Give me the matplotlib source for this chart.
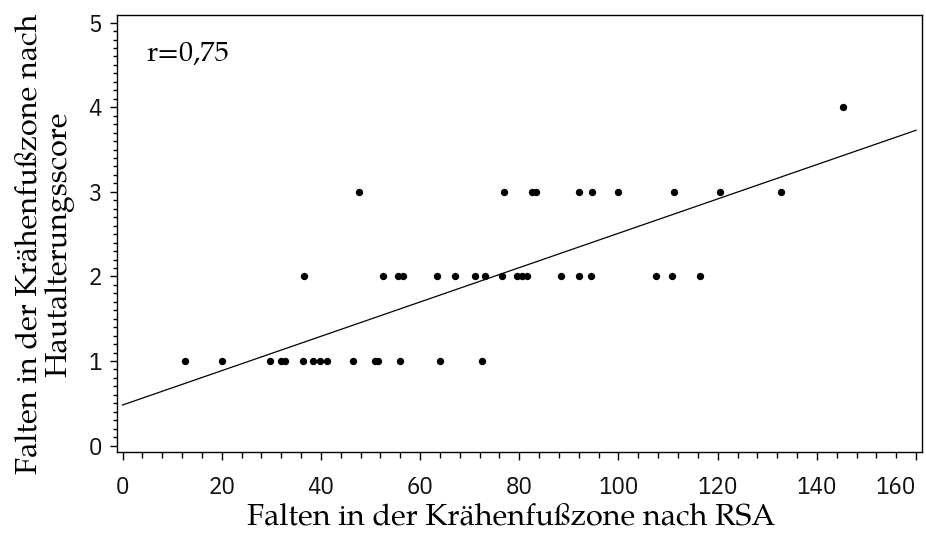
import numpy as np
import matplotlib.pyplot as plt
from matplotlib.ticker import MultipleLocator

# points (RSA value, skin-ageing score)
rsa_1 = [12.7, 20.1, 29.7, 31.9, 32.7, 36.4, 38.5, 39.8, 41.2, 46.5, 51.0, 51.6, 55.9, 64.1, 72.5]
rsa_2 = [36.5, 52.5, 55.5, 56.5, 63.5, 67.0, 71.1, 73.1, 76.5, 79.5, 80.5, 81.5,
         88.5, 92.0, 94.4, 107.6, 110.7, 116.4]
rsa_3 = [47.6, 76.9, 82.6, 83.4, 92.0, 94.6, 100.0, 111.2, 120.4, 132.8]
rsa_4 = [145.3]

fit_intercept = 0.48
fit_slope = 0.0203
r_text = "r=0,75"

x = np.array(rsa_1 + rsa_2 + rsa_3 + rsa_4)
y = np.array([1] * len(rsa_1) + [2] * len(rsa_2) + [3] * len(rsa_3) + [4] * len(rsa_4))

tick_font = ['IBM Plex Sans Condensed', 'DejaVu Sans']
label_font = ['P052', 'TeX Gyre Pagella', 'URW Palladio L', 'Liberation Serif']

fig = plt.figure(figsize=(9.26, 5.34), dpi=100)
ax = fig.add_axes([0.1264, 0.1536, 0.8693, 0.8183])

ax.scatter(x, y, s=28, color='black', zorder=3, linewidths=0)
xs = np.array([0, 160])
ax.plot(xs, fit_intercept + fit_slope * xs, color='black', lw=0.9)

ax.set_xlim(-1.1, 161.2)
ax.set_ylim(-0.075, 5.09)
ax.xaxis.set_major_locator(MultipleLocator(20))
ax.xaxis.set_minor_locator(MultipleLocator(4))
ax.yaxis.set_major_locator(MultipleLocator(1))
ax.yaxis.set_minor_locator(MultipleLocator(0.1))
ax.tick_params(axis='x', which='major', length=6, width=1, pad=11.5)
ax.tick_params(axis='x', which='minor', length=4, width=1)
ax.tick_params(axis='y', which='major', length=5, width=1, pad=6)
ax.tick_params(axis='y', which='minor', length=3, width=1)
fig.canvas.draw()
for lab in ax.get_xticklabels() + ax.get_yticklabels():
    lab.set_family(tick_font)
    lab.set_fontsize(18)
    lab.set_color('#111111')
for lab in ax.get_xticklabels():
    if lab.get_text() == '160':
        lab.set_horizontalalignment('right')
for s in ax.spines.values():
    s.set_linewidth(1)

ax.set_xlabel('Falten in der Krähenfußzone nach RSA', family=label_font, fontsize=22)
ax.xaxis.set_label_coords(0.4894, -0.118)
ax.set_ylabel('Falten in der Krähenfußzone nach\nHautalterungsscore', family=label_font,
              fontsize=22, linespacing=0.93)
ax.yaxis.set_label_coords(-0.053, 0.476)
ax.text(0.037, 0.895, r_text, transform=ax.transAxes, family=label_font, fontsize=20.5, va='baseline')

fig.savefig('out.png', dpi=100)
